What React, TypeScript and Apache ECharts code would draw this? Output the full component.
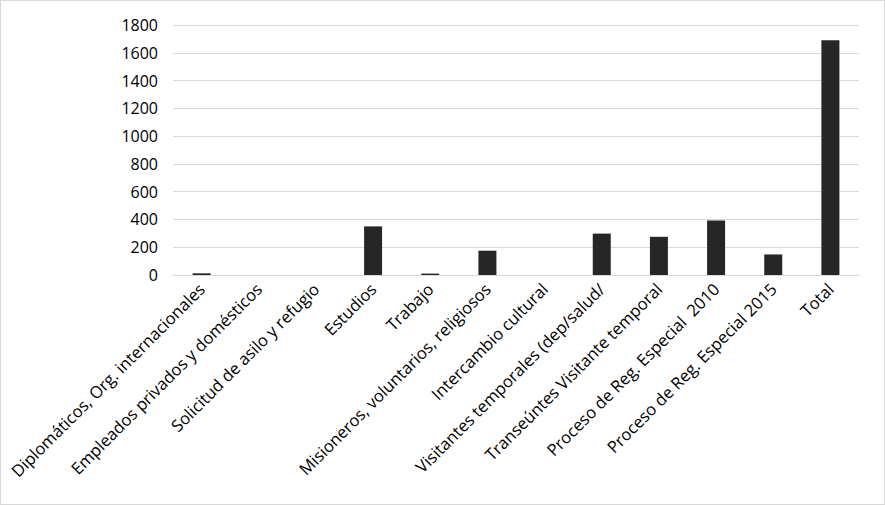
import React, { useEffect, useRef } from "react";
import * as echarts from "echarts";

const categories = [
  "Diplomáticos, Org. internacionales",
  "Empleados privados y domésticos",
  "Solicitud de asilo y refugio",
  "Estudios",
  "Trabajo",
  "Misioneros, voluntarios, religiosos",
  "Intercambio cultural",
  "Visitantes temporales (dep/salud/",
  "Transeúntes Visitante temporal",
  "Proceso de Reg. Especial  2010",
  "Proceso de Reg. Especial 2015",
  "Total",
];
const values = [12, 0, 0, 350, 10, 175, 0, 298, 275, 392, 148, 1690];
const yTicks = { min: 0, max: 1800, interval: 200 };

export default function App() {
  const ref = useRef<HTMLDivElement>(null);
  useEffect(() => {
    const chart = echarts.init(ref.current!, null, { renderer: "svg" });
    const font = "'Open Sans', sans-serif";
    chart.setOption({
      animation: false,
      backgroundColor: "#ffffff",
      grid: { left: 172, right: 25, top: 24, bottom: 229, containLabel: false },
      xAxis: {
        type: "category",
        data: categories,
        axisLine: { show: true, lineStyle: { color: "#d9d9d9", width: 1 } },
        axisTick: { show: false },
        axisLabel: {
          rotate: 45,
          interval: 0,
          color: "#000000",
          fontSize: 16.6,
          fontFamily: font,
          margin: 11,
        },
      },
      yAxis: {
        type: "value",
        min: yTicks.min,
        max: yTicks.max,
        interval: yTicks.interval,
        axisLine: { show: false },
        axisTick: { show: false },
        splitLine: { lineStyle: { color: "#d9d9d9", width: 1 } },
        axisLabel: {
          color: "#000000",
          fontSize: 16,
          fontFamily: font,
          margin: 15,
          formatter: (v: number) => String(v),
        },
      },
      series: [
        {
          type: "bar",
          data: values,
          barWidth: 18,
          itemStyle: { color: "#262626" },
        },
      ],
    });
    return () => chart.dispose();
  }, []);
  return (
    <div
      style={{
        width: 885,
        height: 505,
        position: "absolute",
        left: 0,
        top: 0,
        boxSizing: "border-box",
        border: "1px solid #d9d9d9",
        background: "#fff",
      }}
    >
      <div ref={ref} style={{ width: 883, height: 503 }} />
    </div>
  );
}
